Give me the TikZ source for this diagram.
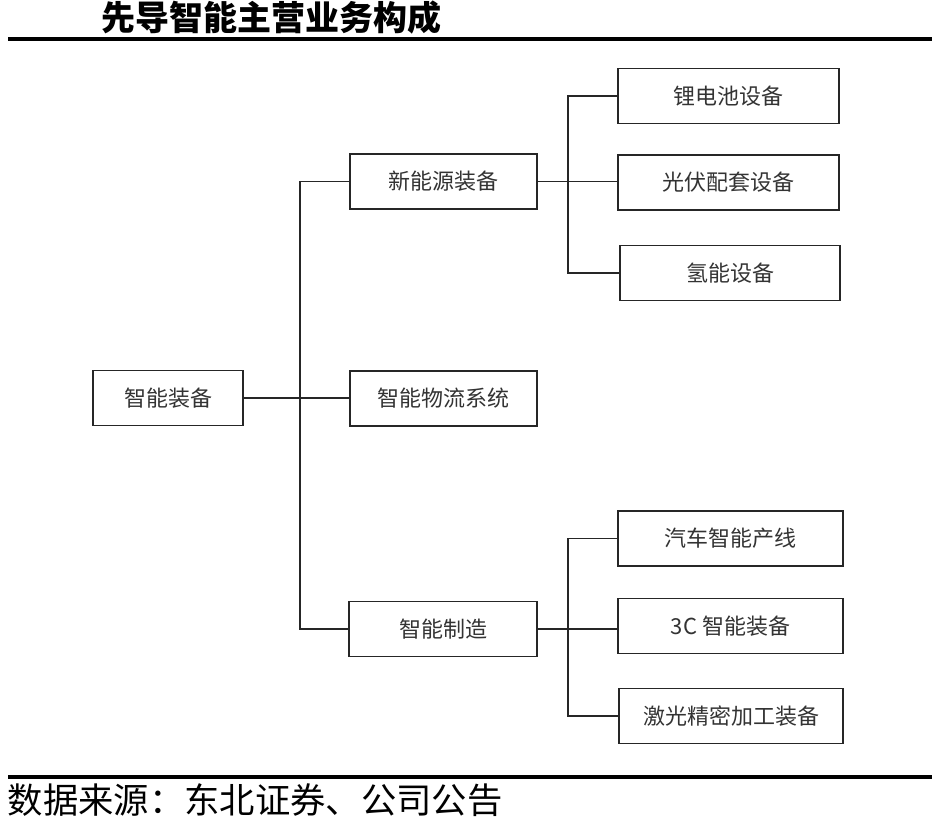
\documentclass[tikz,border=0pt]{standalone}
\usepackage{fontspec}
\setmainfont{Noto Sans CJK SC}
\newfontfamily\cjkbold{Noto Sans CJK SC Black}
\begin{document}
\begin{tikzpicture}[x=0.75pt,y=-0.75pt,
  box/.style={draw=black!85,line width=1.1pt,minimum height=55*0.75pt,inner sep=0pt,font=\fontsize{16.5}{19}\selectfont,text=black!80},
  conn/.style={draw=black!85,line width=1.1pt},
  rule/.style={line width=2.4pt,black}]
\useasboundingbox (0,0) rectangle (945,824);
\node[anchor=west,font=\cjkbold\fontsize{25.5}{30}\selectfont] (title) at (97,18) {先导智能主营业务构成};
\coordinate (r1a) at (8,39);\coordinate (r1b) at (932,39);
\draw[rule] (r1a) -- (r1b);
\coordinate (r2a) at (8,777);\coordinate (r2b) at (932,777);
\draw[rule] (r2a) -- (r2b);
\node[anchor=west,font=\fontsize{26.5}{30}\selectfont] (src) at (3,800) {数据来源：东北证券、公司公告};

\node[box,minimum width=150*0.75pt] (root) at (168,398) {智能装备};
\node[box,minimum width=187*0.75pt] (xny) at (443.5,181.5) {新能源装备};
\node[box,minimum width=187*0.75pt] (wl) at (443.5,398.5) {智能物流系统};
\node[box,minimum width=188*0.75pt] (zz) at (443,629) {智能制造};
\node[box,minimum width=221*0.75pt] (ld) at (728.5,96) {锂电池设备};
\node[box,minimum width=221*0.75pt] (gf) at (728.5,182.5) {光伏配套设备};
\node[box,minimum width=220*0.75pt] (qn) at (730,273) {氢能设备};
\node[box,minimum width=225*0.75pt] (qc) at (730.5,538.5) {汽车智能产线};
\node[box,minimum width=225*0.75pt] (c3) at (730.5,626) {3C 智能装备};
\node[box,minimum width=224*0.75pt] (jg) at (731,716) {激光精密加工装备};

\coordinate (t1) at (300,398);
\coordinate (t2) at (568,182);
\coordinate (t3) at (568,627);
\draw[conn] (root.east) -- (root.east -| wl.west);
\draw[conn] (xny.west) -| (t1) |- (zz.west);
\draw[conn] (xny.east) -- (xny.east -| gf.west);
\draw[conn] (ld.west) -| (t2) |- (qn.west);
\draw[conn] (zz.east) -- (zz.east -| c3.west);
\draw[conn] (qc.west) -| (t3) |- (jg.west);
\end{tikzpicture}
\end{document}
